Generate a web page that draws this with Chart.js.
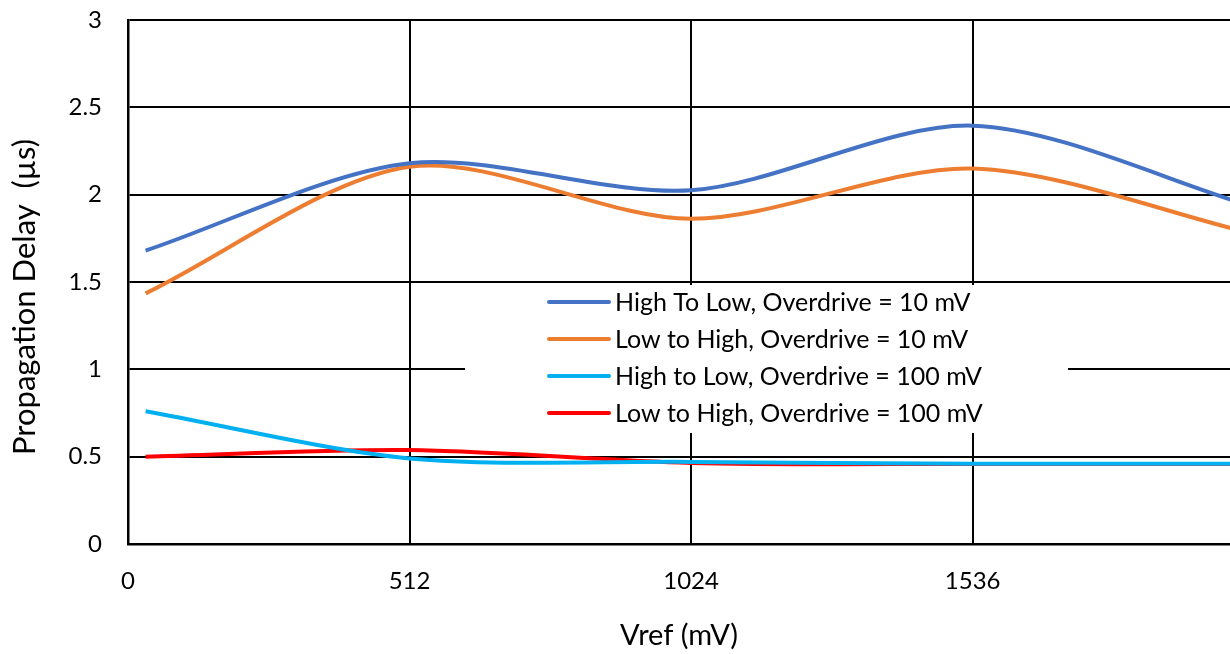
<!DOCTYPE html>
<html>
<head>
<meta charset="utf-8">
<script src="https://cdn.jsdelivr.net/npm/chart.js@4.4.1/dist/chart.umd.min.js"></script>
<style>
  html, body { margin: 0; padding: 0; background: #ffffff; overflow: hidden; }
  #wrap { width: 1230px; height: 654px; }
</style>
</head>
<body>
<div id="wrap"><canvas id="c" width="1230" height="654"></canvas></div>
<script>
// Vref values (mV)
const vref = [32, 512, 1024, 1536, 2048];
// Propagation delay (µs)
const highToLow10 = [1.68, 2.18, 2.025, 2.395, 1.93];
const lowToHigh10 = [1.435, 2.16, 1.862, 2.15, 1.775];
const highToLow100 = [0.76, 0.49, 0.47, 0.46, 0.46];
const lowToHigh100 = [0.50, 0.538, 0.464, 0.458, 0.458];

const seriesLabels = [
  'High To Low, Overdrive = 10 mV',
  'Low to High, Overdrive = 10 mV',
  'High to Low, Overdrive = 100 mV',
  'Low to High, Overdrive = 100 mV'
];
const seriesColors = ['#4472C4', '#ED7D31', '#00B0F0', '#FF0000'];
const xTickValues = [0, 512, 1024, 1536];
const yTickValues = [0, 0.5, 1, 1.5, 2, 2.5, 3];
const xTitle = 'Vref (mV)';
const yTitle = 'Propagation Delay  (µs)';

const FONT = 'Lato, "Open Sans", sans-serif';

function pts(ys) { return vref.map((x, i) => ({ x: x, y: ys[i] })); }

const legendPlugin = {
  id: 'insideLegend',
  afterDatasetsDraw(chart, args, opts) {
    const ctx = chart.ctx;
    ctx.save();
    ctx.fillStyle = '#ffffff';
    ctx.fillRect(opts.left, opts.top, opts.width, opts.height);
    ctx.font = opts.fontSize + 'px ' + FONT;
    ctx.textBaseline = 'middle';
    ctx.textAlign = 'left';
    chart.data.datasets.forEach((ds, i) => {
      const y = opts.firstRow + i * opts.rowGap;
      ctx.strokeStyle = ds.borderColor;
      ctx.lineWidth = 4;
      ctx.lineCap = 'round';
      ctx.beginPath();
      ctx.moveTo(opts.lineStart, y);
      ctx.lineTo(opts.lineEnd, y);
      ctx.stroke();
      ctx.fillStyle = '#000000';
      ctx.fillText(ds.label, opts.textStart, y + 1);
    });
    ctx.restore();
  }
};

const yTitlePlugin = {
  id: 'yTitle',
  afterDraw(chart, args, opts) {
    const ctx = chart.ctx;
    ctx.save();
    ctx.translate(opts.x, opts.y);
    ctx.rotate(-Math.PI / 2);
    ctx.font = opts.fontSize + 'px ' + FONT;
    ctx.fillStyle = '#000000';
    ctx.textAlign = 'center';
    ctx.textBaseline = 'middle';
    ctx.fillText(opts.text, 0, 0);
    ctx.restore();
  }
};

const data = [highToLow10, lowToHigh10, highToLow100, lowToHigh100];

new Chart(document.getElementById('c'), {
  type: 'line',
  data: {
    datasets: data.map((ys, i) => ({
      label: seriesLabels[i],
      data: pts(ys),
      borderColor: seriesColors[i],
      backgroundColor: seriesColors[i],
      borderWidth: 4,
      pointRadius: 0,
      tension: 0.3,
      fill: false
    }))
  },
  options: {
    responsive: false,
    devicePixelRatio: 1,
    animation: false,
    layout: { padding: { top: 20, right: 0, left: 0, bottom: 0 } },
    plugins: {
      legend: { display: false },
      tooltip: { enabled: false },
      insideLegend: {
        left: 465, top: 285, width: 603, height: 148,
        firstRow: 302, rowGap: 37,
        lineStart: 549, lineEnd: 609, textStart: 615,
        fontSize: 25
      },
      yTitle: { text: yTitle, x: 25, y: 297, fontSize: 31 }
    },
    scales: {
      x: {
        type: 'linear',
        min: 0,
        max: 2004,
        afterBuildTicks: (s) => { s.ticks = xTickValues.map(v => ({ value: v })); },
        afterFit: (s) => { s.height = 110; s.paddingLeft = 0; s.paddingRight = 0; },
        ticks: {
          callback: (v) => String(v),
          color: '#000000',
          font: { family: FONT, size: 24 },
          padding: 23,
          maxRotation: 0
        },
        grid: { color: '#000000', lineWidth: 2, drawTicks: false },
        border: { color: '#000000', width: 2.5 },
        title: {
          display: true,
          text: xTitle,
          color: '#000000',
          font: { family: FONT, size: 29 },
          padding: { top: 0, bottom: 1 }
        }
      },
      y: {
        min: 0,
        max: 3,
        afterBuildTicks: (s) => { s.ticks = yTickValues.map(v => ({ value: v })); },
        afterFit: (s) => { s.width = 128; s.paddingTop = 0; s.paddingBottom = 0; },
        ticks: {
          callback: (v) => String(v),
          color: '#000000',
          font: { family: FONT, size: 24 },
          padding: 26
        },
        grid: { color: '#000000', lineWidth: 2, drawTicks: false },
        border: { color: '#000000', width: 2.5 },
        title: { display: false }
      }
    }
  },
  plugins: [legendPlugin, yTitlePlugin]
});
</script>
</body>
</html>
